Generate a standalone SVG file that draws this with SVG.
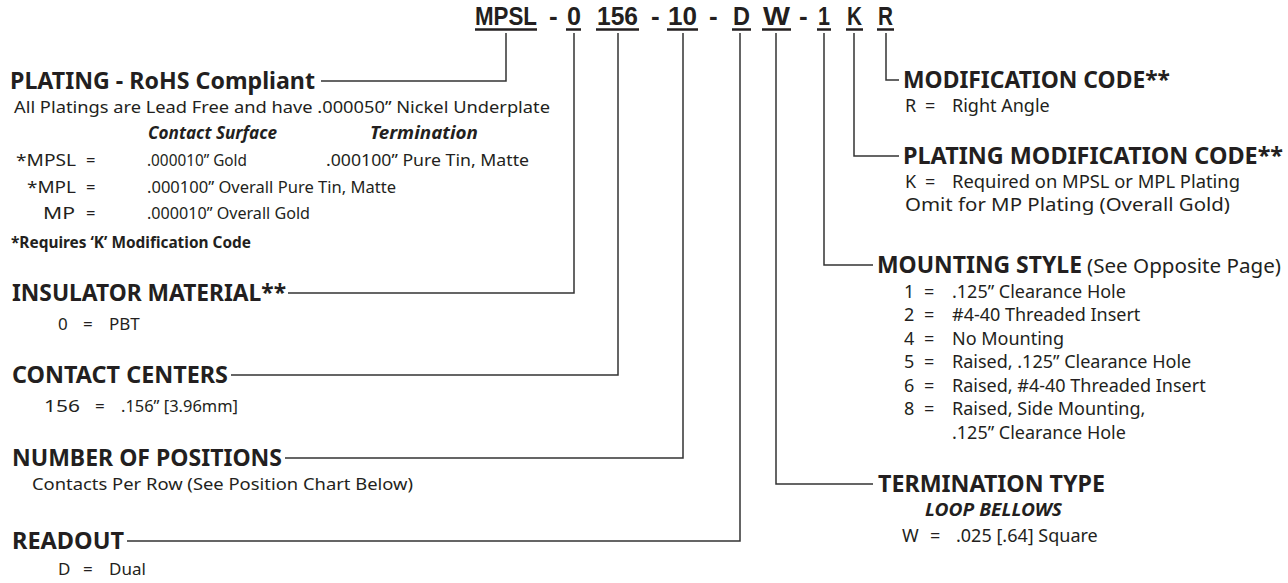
<svg xmlns="http://www.w3.org/2000/svg" width="1288" height="583" viewBox="0 0 1288 583">
<style>
text{font-family:"Noto Sans","Liberation Sans",sans-serif;fill:#231f20}
.code{font-family:"Liberation Sans",Arial,sans-serif;font-weight:bold;font-size:26px}
.h{font-weight:bold;font-size:23px}
.b{font-size:16.5px}
.r{font-size:18px}
.l{font-size:17px}
.bi{font-weight:bold;font-style:italic;font-size:17px}
.bb{font-weight:bold;font-size:16.5px}
.ul{stroke:#231f20;stroke-width:2.5}
.c{fill:none;stroke:#333;stroke-width:1.5}
</style>
<g id="code">
<text class="code" x="475" y="25" textLength="62" lengthAdjust="spacingAndGlyphs">MPSL</text>
<text class="code" x="549" y="25">-</text>
<text class="code" x="567" y="25" textLength="14" lengthAdjust="spacingAndGlyphs">0</text>
<text class="code" x="597" y="25" textLength="41" lengthAdjust="spacingAndGlyphs">156</text>
<text class="code" x="651" y="25">-</text>
<text class="code" x="668" y="25" textLength="29" lengthAdjust="spacingAndGlyphs">10</text>
<text class="code" x="709" y="25">-</text>
<text class="code" x="733" y="25" textLength="17" lengthAdjust="spacingAndGlyphs">D</text>
<text class="code" x="763" y="25" textLength="27" lengthAdjust="spacingAndGlyphs">W</text>
<text class="code" x="799" y="25">-</text>
<text class="code" x="818" y="25" textLength="12" lengthAdjust="spacingAndGlyphs">1</text>
<text class="code" x="847" y="25" textLength="15" lengthAdjust="spacingAndGlyphs">K</text>
<text class="code" x="878" y="25" textLength="15" lengthAdjust="spacingAndGlyphs">R</text>
<line class="ul" x1="475" y1="29.5" x2="537" y2="29.5"/>
<line class="ul" x1="566" y1="29.5" x2="581" y2="29.5"/>
<line class="ul" x1="596" y1="29.5" x2="639" y2="29.5"/>
<line class="ul" x1="667" y1="29.5" x2="698" y2="29.5"/>
<line class="ul" x1="732" y1="29.5" x2="751" y2="29.5"/>
<line class="ul" x1="762" y1="29.5" x2="791" y2="29.5"/>
<line class="ul" x1="817" y1="29.5" x2="831" y2="29.5"/>
<line class="ul" x1="846" y1="29.5" x2="863" y2="29.5"/>
<line class="ul" x1="877" y1="29.5" x2="894" y2="29.5"/>
</g>
<g id="connectors">
<polyline class="c" points="506,33 506,81 321,81"/>
<polyline class="c" points="574,33 574,293 288,293"/>
<polyline class="c" points="618,33 618,375 231,375"/>
<polyline class="c" points="683,33 683,458 285,458"/>
<polyline class="c" points="740,33 740,541 127,541"/>
<polyline class="c" points="776,33 776,484 873,484"/>
<polyline class="c" points="824,33 824,265 873,265"/>
<polyline class="c" points="854,33 854,156 899,156"/>
<polyline class="c" points="886,33 886,80 899,80"/>
</g>
<g id="plating">
<text class="h" x="10" y="89" textLength="305" lengthAdjust="spacingAndGlyphs">PLATING - RoHS Compliant</text>
<text class="b" x="14" y="113" textLength="536" lengthAdjust="spacingAndGlyphs">All Platings are Lead Free and have .000050” Nickel Underplate</text>
<text class="bi" x="148" y="139" textLength="129" lengthAdjust="spacingAndGlyphs">Contact Surface</text>
<text class="bi" x="370" y="139" textLength="108" lengthAdjust="spacingAndGlyphs">Termination</text>
<text class="b" x="16" y="166" textLength="60" lengthAdjust="spacingAndGlyphs">*MPSL</text><text class="b" x="86" y="166">=</text>
<text class="b" x="147" y="166" textLength="100" lengthAdjust="spacingAndGlyphs">.000010” Gold</text>
<text class="b" x="326" y="166" textLength="203" lengthAdjust="spacingAndGlyphs">.000100” Pure Tin, Matte</text>
<text class="b" x="27" y="193" textLength="49" lengthAdjust="spacingAndGlyphs">*MPL</text><text class="b" x="86" y="193">=</text>
<text class="b" x="147" y="193" textLength="249" lengthAdjust="spacingAndGlyphs">.000100” Overall Pure Tin, Matte</text>
<text class="b" x="43" y="219" textLength="32" lengthAdjust="spacingAndGlyphs">MP</text><text class="b" x="86" y="219">=</text>
<text class="b" x="147" y="219" textLength="163" lengthAdjust="spacingAndGlyphs">.000010” Overall Gold</text>
<text class="bb" x="11" y="248" textLength="240" lengthAdjust="spacingAndGlyphs">*Requires ‘K’ Modification Code</text>
</g>
<g id="insulator">
<text class="h" x="12" y="301" textLength="274" lengthAdjust="spacingAndGlyphs">INSULATOR MATERIAL**</text>
<text class="l" x="58" y="330">0</text><text class="l" x="83" y="330">=</text><text class="l" x="109" y="330">PBT</text>
</g>
<g id="centers">
<text class="h" x="12" y="383" textLength="216" lengthAdjust="spacingAndGlyphs">CONTACT CENTERS</text>
<text class="l" x="44" y="412" textLength="36" lengthAdjust="spacingAndGlyphs">156</text><text class="l" x="95" y="412">=</text>
<text class="l" x="121" y="412" textLength="117" lengthAdjust="spacingAndGlyphs">.156” [3.96mm]</text>
</g>
<g id="positions">
<text class="h" x="12" y="466" textLength="270" lengthAdjust="spacingAndGlyphs">NUMBER OF POSITIONS</text>
<text class="l" x="32" y="490" textLength="381" lengthAdjust="spacingAndGlyphs">Contacts Per Row (See Position Chart Below)</text>
</g>
<g id="readout">
<text class="h" x="12" y="549" textLength="112" lengthAdjust="spacingAndGlyphs">READOUT</text>
<text class="l" x="58" y="575">D</text><text class="l" x="83" y="575">=</text><text class="l" x="109" y="575">Dual</text>
</g>
<g id="modification">
<text class="h" x="903" y="88" textLength="267" lengthAdjust="spacingAndGlyphs">MODIFICATION CODE**</text>
<text class="r" x="905" y="112">R</text><text class="r" x="925" y="112">=</text><text class="r" x="952" y="112">Right Angle</text>
</g>
<g id="platingmod">
<text class="h" x="903" y="164" textLength="380" lengthAdjust="spacingAndGlyphs">PLATING MODIFICATION CODE**</text>
<text class="r" x="905" y="188">K</text><text class="r" x="925" y="188">=</text>
<text class="r" x="952" y="188" textLength="288" lengthAdjust="spacingAndGlyphs">Required on MPSL or MPL Plating</text>
<text class="r" x="905" y="211" textLength="325" lengthAdjust="spacingAndGlyphs">Omit for MP Plating (Overall Gold)</text>
</g>
<g id="mounting">
<text class="h" x="877" y="273" textLength="205" lengthAdjust="spacingAndGlyphs">MOUNTING STYLE</text>
<text x="1087" y="273" style="font-size:19px" textLength="194" lengthAdjust="spacingAndGlyphs">(See Opposite Page)</text>
<text class="r" x="904" y="298">1</text><text class="r" x="924" y="298">=</text><text class="r" x="952" y="298">.125” Clearance Hole</text>
<text class="r" x="904" y="321">2</text><text class="r" x="924" y="321">=</text><text class="r" x="952" y="321">#4-40 Threaded Insert</text>
<text class="r" x="904" y="345">4</text><text class="r" x="924" y="345">=</text><text class="r" x="952" y="345">No Mounting</text>
<text class="r" x="904" y="368">5</text><text class="r" x="924" y="368">=</text><text class="r" x="952" y="368">Raised, .125” Clearance Hole</text>
<text class="r" x="904" y="392">6</text><text class="r" x="924" y="392">=</text><text class="r" x="952" y="392">Raised, #4-40 Threaded Insert</text>
<text class="r" x="904" y="415">8</text><text class="r" x="924" y="415">=</text><text class="r" x="952" y="415">Raised, Side Mounting,</text>
<text class="r" x="952" y="439">.125” Clearance Hole</text>
</g>
<g id="termination">
<text class="h" x="878" y="492" textLength="227" lengthAdjust="spacingAndGlyphs">TERMINATION TYPE</text>
<text class="bi" x="925" y="516" style="font-size:18px" textLength="137" lengthAdjust="spacingAndGlyphs">LOOP BELLOWS</text>
<text class="r" x="902" y="542">W</text><text class="r" x="930" y="542">=</text><text class="r" x="956" y="542">.025 [.64] Square</text>
</g>
</svg>
